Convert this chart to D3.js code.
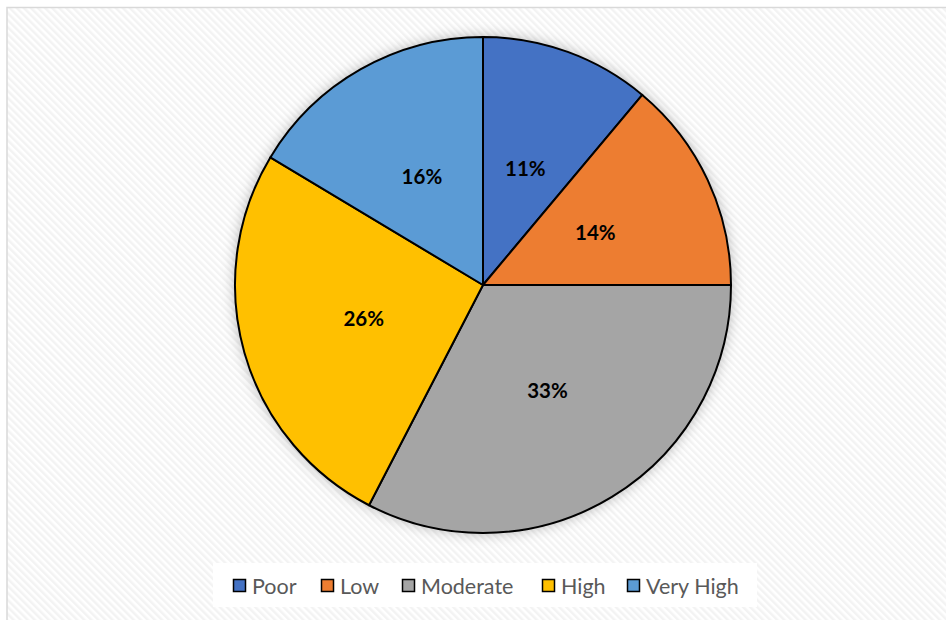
<!DOCTYPE html>
<html><head><meta charset="utf-8">
<script src="https://cdn.jsdelivr.net/npm/d3@7"></script>
<style>body{margin:0;background:#fff}svg{display:block}</style>
</head><body>
<script>
const categories = ["Poor", "Low", "Moderate", "High", "Very High"];
const values = [11.1, 13.9, 32.6, 26.0, 16.4];
const labels = ["11%", "14%", "33%", "26%", "16%"];
const colors = ["#4472C4", "#ED7D31", "#A5A5A5", "#FFC000", "#5B9BD5"];

const W = 946, H = 620;
const svg = d3.select("body").append("svg").attr("width", W).attr("height", H);
const defs = svg.append("defs");
const pat = defs.append("pattern").attr("id", "hatch").attr("patternUnits", "userSpaceOnUse")
  .attr("width", 5).attr("height", 5).attr("patternTransform", "rotate(-45)");
pat.append("rect").attr("width", 5).attr("height", 5).attr("fill", "#ffffff");
pat.append("rect").attr("width", 2.5).attr("height", 5).attr("fill", "#f3f3f3");
const f = defs.append("filter").attr("id", "glow").attr("x", "-20%").attr("y", "-20%").attr("width", "140%").attr("height", "140%");
f.append("feDropShadow").attr("dx", 0).attr("dy", 0).attr("stdDeviation", 7).attr("flood-color", "#000").attr("flood-opacity", 0.3);

svg.append("rect").attr("x", 7).attr("y", 7.5).attr("width", 945).attr("height", 620)
  .attr("fill", "url(#hatch)").attr("stroke", "#d9d9d9").attr("stroke-width", 1.5);

const cx = 483, cy = 285, r = 248;
const pie = d3.pie().sort(null).value(d => d)(values);
const arc = d3.arc().innerRadius(0).outerRadius(r);
const g = svg.append("g").attr("transform", `translate(${cx},${cy})`);
g.append("circle").attr("r", r).attr("fill", "#fff").attr("filter", "url(#glow)");
g.selectAll("path").data(pie).join("path").attr("d", arc)
  .attr("fill", (d, i) => colors[i]).attr("stroke", "#000").attr("stroke-width", 2).attr("stroke-linejoin", "round");
const larc = d3.arc().innerRadius(r * 0.5).outerRadius(r * 0.5);
g.selectAll("text").data(pie).join("text")
  .attr("transform", d => `translate(${larc.centroid(d)})`)
  .attr("text-anchor", "middle").attr("dy", "0.36em")
  .style("font-family", "Lato, 'Open Sans', sans-serif").style("font-weight", "bold").style("font-size", "20.5px")
  .attr("fill", "#000").text((d, i) => labels[i]);

// legend
const lg = svg.append("g");
lg.append("rect").attr("x", 213).attr("y", 563).attr("width", 544).attr("height", 44).attr("fill", "#fff");
const xs = [233, 321, 402, 542, 627];
categories.forEach((c, i) => {
  lg.append("rect").attr("x", xs[i] + 0.5).attr("y", 579.5).attr("width", 12).attr("height", 12)
    .attr("fill", colors[i]).attr("stroke", "#000").attr("stroke-width", 1.5);
  lg.append("text").attr("x", xs[i] + 19).attr("y", 586).attr("dy", "0.35em")
    .style("font-family", "Lato, 'Open Sans', sans-serif").style("font-size", "21.5px")
    .attr("fill", "#595959").text(c);
});
</script>
</body></html>
